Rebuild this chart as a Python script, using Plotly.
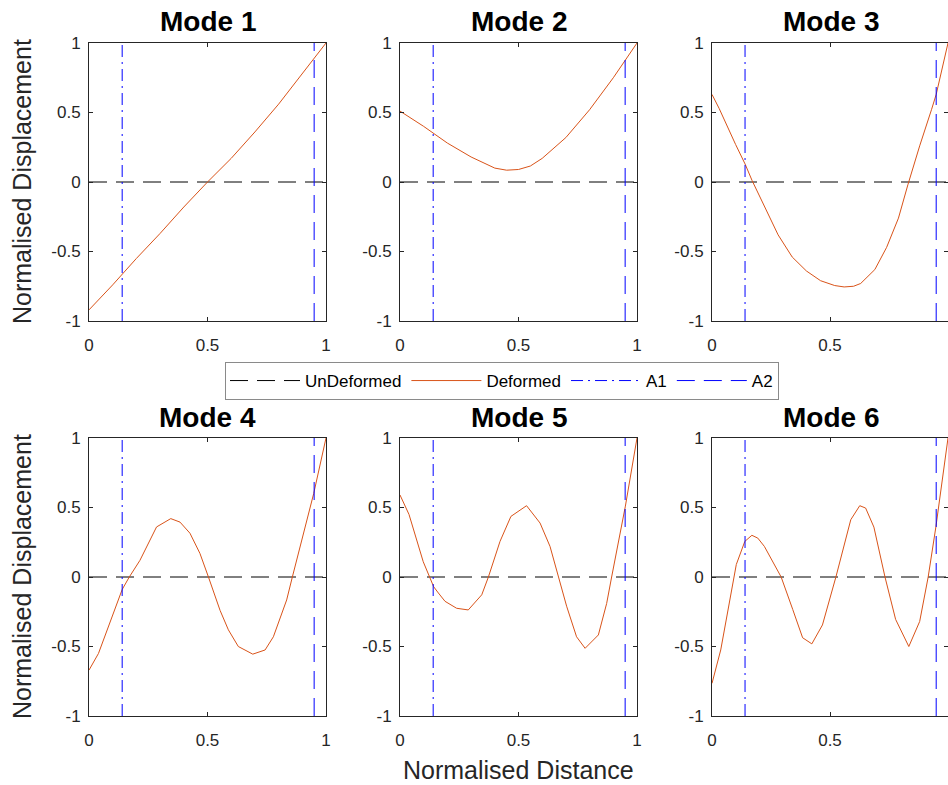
import plotly.graph_objects as go

# ---------------- data ----------------
mode_titles = ["Mode 1", "Mode 2", "Mode 3", "Mode 4", "Mode 5", "Mode 6"]

a1_pos = 0.14
a2_pos = 0.95

undeformed_x = [0.0, 1.0]
undeformed_y = [0.0, 0.0]

mode1_x = [0.0, 0.1, 0.2, 0.3, 0.4, 0.5, 0.6, 0.7, 0.8, 0.9, 1.0]
mode1_y = [-0.92, -0.74, -0.55, -0.37, -0.18, 0.0, 0.17, 0.36, 0.56, 0.78, 1.0]

mode2_x = [0.0, 0.1, 0.2, 0.3, 0.4, 0.45, 0.5, 0.55, 0.6, 0.7, 0.8, 0.9, 1.0]
mode2_y = [0.51, 0.40, 0.28, 0.18, 0.10, 0.085, 0.09, 0.115, 0.17, 0.32, 0.52, 0.75, 1.0]

mode3_x = [0.0, 0.03, 0.1, 0.14, 0.17, 0.22, 0.28, 0.34, 0.40, 0.46, 0.52, 0.56,
           0.60, 0.63, 0.69, 0.74, 0.79, 0.83, 0.88, 0.93, 0.95, 1.0]
mode3_y = [0.63, 0.53, 0.27, 0.13, 0.01, -0.17, -0.38, -0.54, -0.64, -0.71, -0.745, -0.755,
           -0.75, -0.73, -0.63, -0.47, -0.26, -0.02, 0.26, 0.52, 0.63, 1.0]

mode4_x = [0.0, 0.04, 0.14, 0.17, 0.215, 0.285, 0.345, 0.384, 0.426, 0.468, 0.504,
           0.553, 0.588, 0.63, 0.691, 0.743, 0.778, 0.834, 0.858, 0.948, 1.0]
mode4_y = [-0.67, -0.55, -0.09, 0.0, 0.12, 0.36, 0.42, 0.395, 0.315, 0.17, 0.0,
           -0.24, -0.38, -0.50, -0.555, -0.525, -0.43, -0.165, 0.0, 0.60, 1.0]

mode5_x = [0.0, 0.038, 0.098, 0.142, 0.162, 0.19, 0.239, 0.288, 0.345, 0.373, 0.422,
           0.468, 0.534, 0.591, 0.633, 0.668, 0.703, 0.745, 0.781, 0.837, 0.872,
           0.893, 0.951, 1.0]
mode5_y = [0.59, 0.45, 0.11, -0.07, -0.115, -0.175, -0.225, -0.237, -0.128, 0.0, 0.256,
           0.436, 0.513, 0.388, 0.22, 0.0, -0.21, -0.43, -0.513, -0.417, -0.19,
           0.0, 0.51, 1.0]

mode6_x = [0.0, 0.037, 0.103, 0.139, 0.169, 0.194, 0.222, 0.25, 0.293, 0.342, 0.384,
           0.423, 0.468, 0.525, 0.588, 0.626, 0.651, 0.686, 0.733, 0.778, 0.834,
           0.88, 0.916, 0.949, 0.994, 1.0]
mode6_y = [-0.765, -0.525, 0.09, 0.256, 0.30, 0.28, 0.22, 0.136, 0.0, -0.233, -0.437,
           -0.481, -0.345, 0.0, 0.412, 0.513, 0.496, 0.359, 0.0, -0.305, -0.50,
           -0.32, 0.0, 0.364, 0.952, 1.0]

modes_x = [mode1_x, mode2_x, mode3_x, mode4_x, mode5_x, mode6_x]
modes_y = [mode1_y, mode2_y, mode3_y, mode4_y, mode5_y, mode6_y]

x_ticks = [0, 0.5, 1]
x_tick_labels = ["0", "0.5", "1"]
y_ticks = [-1, -0.5, 0, 0.5, 1]
y_tick_labels = ["-1", "-0.5", "0", "0.5", "1"]

# ---------------- layout geometry ----------------
W, H = 948, 785
col_px = [(89, 326), (400, 637), (712, 949)]
row_px = [(43, 321), (438, 716)]


def fx(px):
    return min(1.0, max(0.0, px / W))


def fy(py):
    return 1 - py / H


FONT = "Liberation Sans, Arial, Helvetica, sans-serif"
AXC = "#262626"
ORANGE = "#D95319"
BLUE = "#0000FF"

fig = go.Figure()

for i in range(6):
    r, c = divmod(i, 3)
    ax = "" if i == 0 else str(i + 1)
    xa, ya = "x" + ax, "y" + ax
    show = i == 0
    fig.add_trace(go.Scatter(x=undeformed_x, y=undeformed_y, mode="lines", name="UnDeformed",
                             legendgroup="u", showlegend=show, xaxis=xa, yaxis=ya,
                             line=dict(color="black", width=1, dash="18px,9px")))
    fig.add_trace(go.Scatter(x=modes_x[i], y=modes_y[i], mode="lines", name="Deformed",
                             legendgroup="d", showlegend=show, xaxis=xa, yaxis=ya,
                             line=dict(color=ORANGE, width=1)))
    fig.add_trace(go.Scatter(x=[a1_pos, a1_pos], y=[-1, 1], mode="lines", name="A1",
                             legendgroup="a1", showlegend=show, xaxis=xa, yaxis=ya,
                             line=dict(color=BLUE, width=1, dash="12px,5px,2px,5px")))
    fig.add_trace(go.Scatter(x=[a2_pos, a2_pos], y=[-1, 1], mode="lines", name="A2",
                             legendgroup="a2", showlegend=show, xaxis=xa, yaxis=ya,
                             line=dict(color=BLUE, width=1, dash="18px,9px")))

    x0, x1 = col_px[c]
    y0, y1 = row_px[r]
    common = dict(showgrid=False, zeroline=False, showline=True, linecolor=AXC, linewidth=1,
                  mirror="ticks", ticks="inside", ticklen=4, tickcolor=AXC, automargin=False,
                  tickfont=dict(family=FONT, size=17, color=AXC))
    fig.update_layout(**{
        "xaxis" + ax: dict(domain=[fx(x0), fx(x1)], range=[0, 1], tickvals=x_ticks,
                           ticktext=x_tick_labels, anchor=ya, ticklabelstandoff=9, **common),
        "yaxis" + ax: dict(domain=[fy(y1), fy(y0)], range=[-1, 1], tickvals=y_ticks,
                           ticktext=y_tick_labels, anchor=xa, ticklabelstandoff=4, **common),
    })
    # subplot title
    fig.add_annotation(text="<b>" + mode_titles[i] + "</b>", xref="paper", yref="paper",
                       x=fx((x0 + x1) / 2), y=fy(y0 - 21), xanchor="center", yanchor="middle",
                       showarrow=False, font=dict(family=FONT, size=28, color="black"))

# y-axis titles
for r in range(2):
    y0, y1 = row_px[r]
    fig.add_annotation(text="Normalised Displacement", xref="paper", yref="paper",
                       x=fx(22), y=fy((y0 + y1) / 2), textangle=-90,
                       xanchor="center", yanchor="middle", showarrow=False,
                       font=dict(family=FONT, size=25, color=AXC))

# x-axis title
fig.add_annotation(text="Normalised Distance", xref="paper", yref="paper",
                   x=fx((col_px[1][0] + col_px[1][1]) / 2), y=fy(770),
                   xanchor="center", yanchor="middle", showarrow=False,
                   font=dict(family=FONT, size=25, color=AXC))

fig.update_layout(
    width=W, height=H, autosize=False,
    margin=dict(l=0, r=0, t=0, b=0, autoexpand=False),
    paper_bgcolor="white", plot_bgcolor="white",
    showlegend=True,
    legend=dict(orientation="h", x=fx(502), y=fy(381), xanchor="center", yanchor="middle",
                bordercolor="#8a8a8a", borderwidth=1, bgcolor="white",
                font=dict(family=FONT, size=17, color="black"),
                itemwidth=70),
)

fig.write_html(
    "out.html",
    config={"displayModeBar": False},
    post_script="document.body.style.margin='0';document.body.style.overflow='hidden';",
)
